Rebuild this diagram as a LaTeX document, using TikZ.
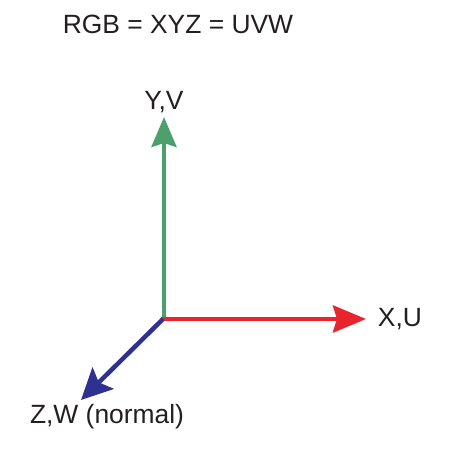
\documentclass[tikz,border=0pt]{standalone}
\usepackage{fontspec}
\setmainfont{Liberation Sans}
\usetikzlibrary{arrows.meta}
\definecolor{axgreen}{RGB}{76,160,110}
\definecolor{axred}{RGB}{234,36,44}
\definecolor{axblue}{RGB}{46,49,146}
\definecolor{txt}{RGB}{35,31,32}
\begin{document}
\begin{tikzpicture}[x=1pt,y=-1pt,
  axis/.style={line width=4.5pt},
  lbl/.style={font=\fontsize{26.4}{30}\selectfont, text=txt, inner sep=0pt}]
\useasboundingbox (0,0) rectangle (450,450);
\coordinate (O) at (163,319);
\coordinate (Ytip) at (164,117);
\coordinate (Xtip) at (366,319);
\coordinate (Ztip) at (81,400);
\coordinate (Og) at (164,321);
\coordinate (Or) at (161,319);
\draw[axis, axgreen, -{Stealth[length=30pt,width=25pt,inset=4pt]}] (Og) -- (Ytip);
\draw[axis, axred, -{Stealth[length=33pt,width=27pt,inset=4pt]}] (Or) -- (Xtip);
\draw[axis, axblue, -{Stealth[length=31pt,width=30pt,inset=6pt]}] (O) -- (Ztip);
\node[lbl] (title) at (178,24) {RGB = XYZ = UVW};
\node[lbl] (ylab) at (164,102) {Y,V};
\node[lbl] (xlab) at (400,319) {X,U};
\node[lbl] (zlab) at (107,417) {Z,W (normal)};
\end{tikzpicture}
\end{document}
